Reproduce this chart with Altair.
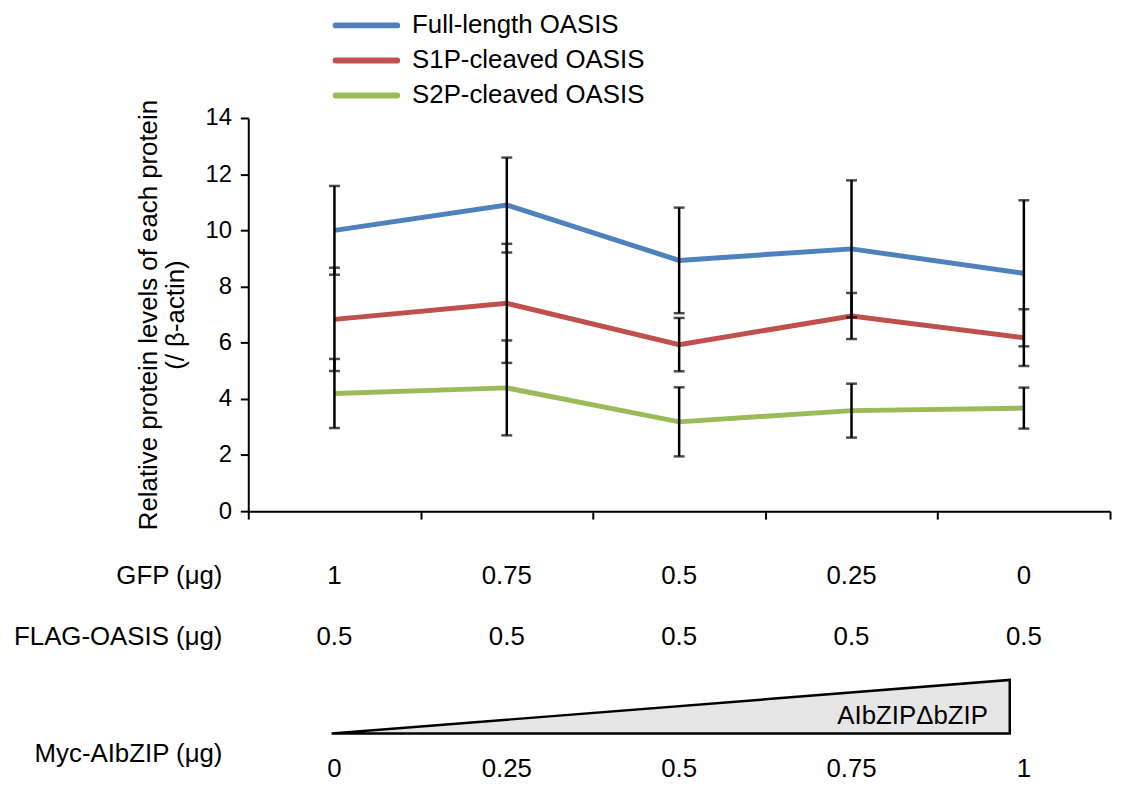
import altair as alt
import pandas as pd

# ---------------- data ----------------
series = ["Full-length OASIS", "S1P-cleaved OASIS", "S2P-cleaved OASIS"]
colors = ["#4f81bd", "#c0504d", "#9bbb59"]
lanes = [1, 2, 3, 4, 5]

full_mean = [10.0, 10.9, 8.93, 9.34, 8.47]
full_err = [1.58, 1.69, 1.88, 2.44, 2.60]
s1p_mean = [6.83, 7.40, 5.93, 6.95, 6.18]
s1p_err = [1.84, 2.12, 0.95, 0.82, 1.01]
s2p_mean = [4.19, 4.39, 3.18, 3.58, 3.67]
s2p_err = [1.23, 1.69, 1.23, 0.96, 0.73]

gfp_ug = ["1", "0.75", "0.5", "0.25", "0"]
flag_ug = ["0.5", "0.5", "0.5", "0.5", "0.5"]
myc_ug = ["0", "0.25", "0.5", "0.75", "1"]
row_labels = ["GFP (μg)", "FLAG-OASIS (μg)", "Myc-AIbZIP (μg)"]

ramp_dose = [0, 1]
ramp_level = [0, 1]
ramp_label = "AIbZIPΔbZIP"

y_ticks = [0, 2, 4, 6, 8, 10, 12, 14]
x_ticks = [0.5, 1.5, 2.5, 3.5, 4.5, 5.5]
y_title = ["Relative protein levels of each protein", "(/ β-actin)"]

FONT = "Liberation Sans"

# ---------------- tables ----------------
rows = []
for name, means, errs in [(series[0], full_mean, full_err),
                          (series[1], s1p_mean, s1p_err),
                          (series[2], s2p_mean, s2p_err)]:
    for lane, m, e in zip(lanes, means, errs):
        rows.append({"series": name, "lane": lane, "mean": m,
                     "lo": m - e, "hi": m + e})
df = pd.DataFrame(rows)

df_doses = pd.DataFrame({"lane": lanes, "gfp": gfp_ug, "flag": flag_ug, "myc": myc_ug})
df_ramp = pd.DataFrame({"dose": ramp_dose, "level": ramp_level})
df_legend = pd.DataFrame({"series": series})

# shared scale definitions (every layer has its own copy of the same scale)
xs = alt.Scale(domain=[0.5, 5.5], nice=False, zero=False)
ys = alt.Scale(domain=[0, 14], nice=False, zero=False)

x_axis = alt.Axis(values=x_ticks, labels=False, title=None, grid=False,
                  ticks=True, tickSize=8, tickWidth=2, tickColor="black",
                  domain=True, domainWidth=2, domainColor="black")
y_axis = alt.Axis(values=y_ticks, grid=False, ticks=True, tickSize=8,
                  tickWidth=2, tickColor="black", domain=True, domainWidth=2,
                  domainColor="black", labels=True,
                  labelFontSize=24, labelColor="black", labelPadding=9,
                  labelFont=FONT, title=y_title, titleFontSize=26,
                  titleFont=FONT, titleFontWeight="normal",
                  titleColor="black", titlePadding=17, titleLineHeight=27)

x_plain = alt.X("lane:Q", scale=xs, axis=None)
color_enc = alt.Color("series:N", scale=alt.Scale(domain=series, range=colors), legend=None)

base = alt.Chart(df)

lines = base.mark_line(strokeWidth=5).encode(
    x=alt.X("lane:Q", scale=xs, axis=x_axis),
    y=alt.Y("mean:Q", scale=ys, axis=y_axis),
    color=color_enc,
    detail="series:N",
)

err_rule = base.mark_rule(color="black", strokeWidth=2.5).encode(
    x=x_plain,
    y=alt.Y("lo:Q", scale=ys, axis=None),
    y2="hi:Q",
)

err_caps = base.transform_fold(["lo", "hi"], as_=["end", "val"]).mark_tick(
    color="black", thickness=2.5, size=11, orient="horizontal").encode(
    x=x_plain,
    y=alt.Y("val:Q", scale=ys, axis=None),
)

def dose_row(field, ypix):
    return alt.Chart(df_doses).mark_text(fontSize=26, font=FONT, color="black",
                                         baseline="middle").encode(
        x=x_plain, y=alt.value(ypix), text=f"{field}:N")

gfp_txt = dose_row("gfp", 461)
flag_txt = dose_row("flag", 523)
myc_txt = dose_row("myc", 656)

def row_label(text, ypix):
    return alt.Chart(pd.DataFrame({"t": [text]})).mark_text(
        fontSize=26, font=FONT, color="black", align="right", baseline="middle"
    ).encode(x=alt.value(-26), y=alt.value(ypix), text="t:N")

lbl1 = row_label(row_labels[0], 461)
lbl2 = row_label(row_labels[1], 523)
lbl3 = row_label(row_labels[2], 641)

# triangle ramp
ramp = alt.Chart(df_ramp).mark_area(fill="#e6e6e6", stroke="black", strokeWidth=2.5,
                                    strokeJoin="miter").encode(
    x=alt.X("dose:Q", scale=alt.Scale(domain=[0, 1], range=[84, 767], nice=False), axis=None),
    y=alt.Y("level:Q", scale=alt.Scale(domain=[0, 1], range=[620, 566], nice=False), axis=None),
)
ramp_txt = alt.Chart(pd.DataFrame({"t": [ramp_label]})).mark_text(
    fontSize=26, font=FONT, color="black", align="right", baseline="middle"
).encode(x=alt.value(745), y=alt.value(602), text="t:N")

# legend
leg_y = alt.Y("series:N", scale=alt.Scale(type="point", domain=series,
                                          range=[-93.3, -22.7], padding=0), axis=None)
leg_line = alt.Chart(df_legend).mark_rule(strokeWidth=6, strokeCap="round").encode(
    x=alt.value(88), x2=alt.value(150), y=leg_y, color=color_enc)
leg_txt = alt.Chart(df_legend).mark_text(fontSize=26, font=FONT, color="black",
                                         align="left", baseline="middle").encode(
    x=alt.value(165), y=leg_y, text="series:N")

chart = alt.layer(
    lines, err_rule, err_caps, gfp_txt, flag_txt, myc_txt, lbl1, lbl2, lbl3,
    ramp, ramp_txt, leg_line, leg_txt,
).resolve_scale(
    x="independent", y="independent"
).properties(
    width=868, height=396,
    view=alt.ViewBackground(stroke=None),
    autosize=alt.AutoSizeParams(type="none"),
    padding={"left": 242, "top": 108, "right": 6, "bottom": 272},
).configure(
    font=FONT
).configure_view(
    stroke=None
)

chart.save("out.html", embed_options={"renderer": "svg", "actions": False})
